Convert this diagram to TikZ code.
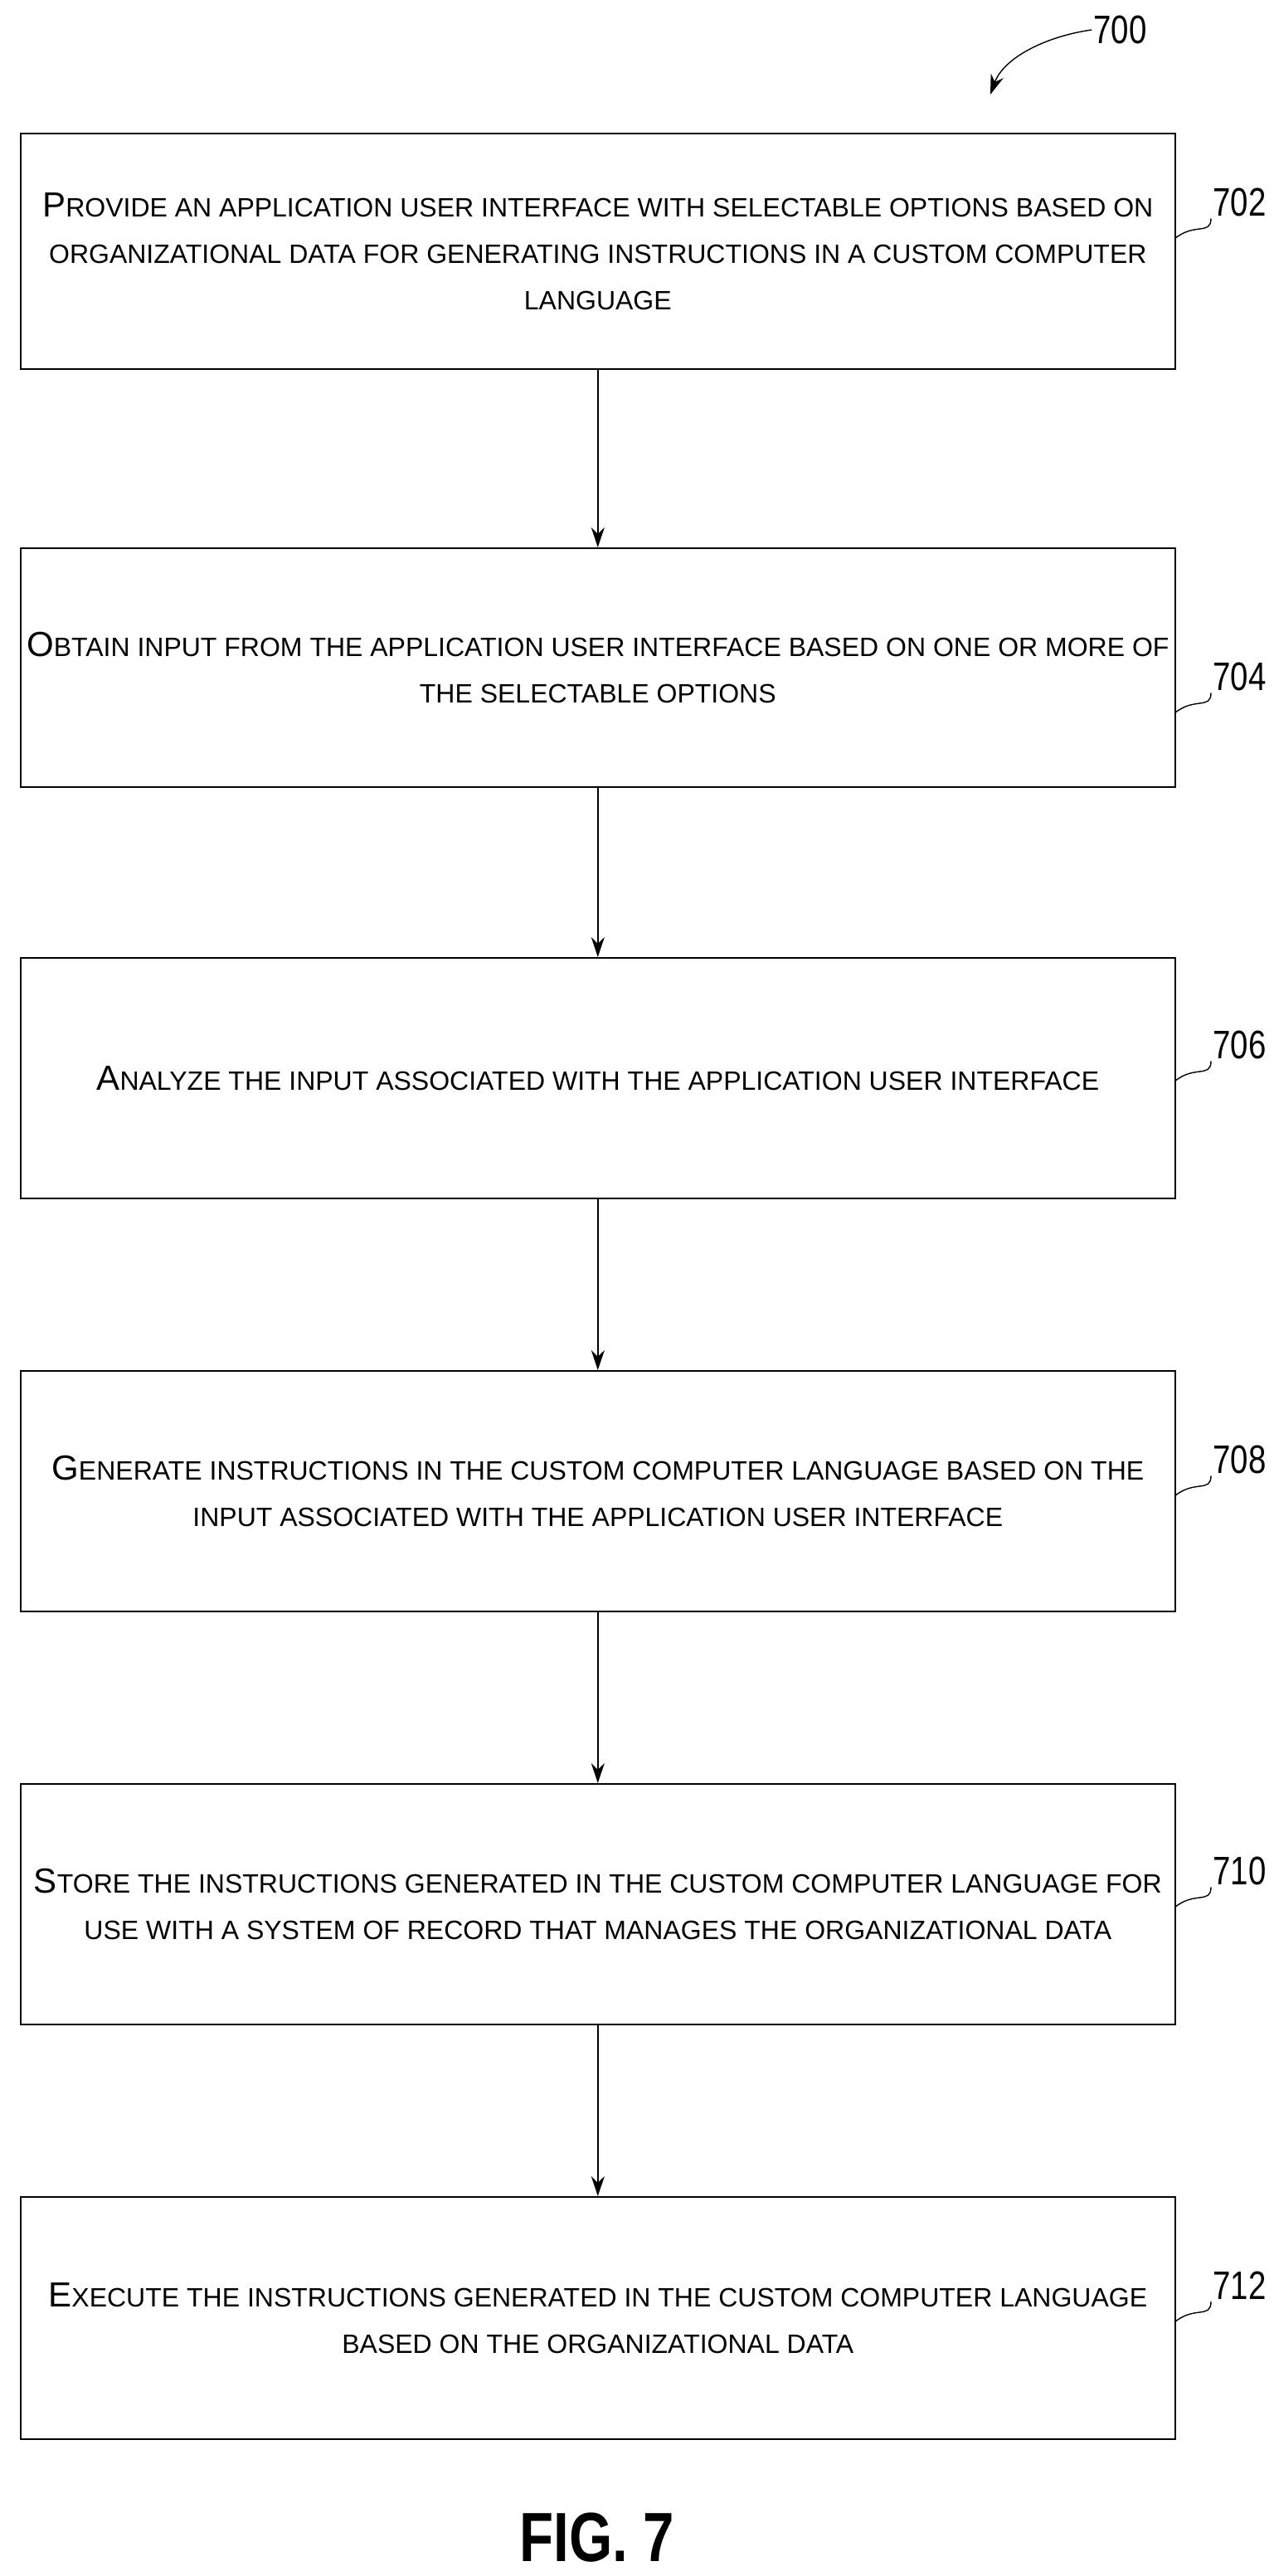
\documentclass[tikz,border=0pt]{standalone}
\usepackage{fontspec}
\setmainfont{Liberation Sans}
\newfontfamily\figfont{Liberation Sans}[FakeStretch=0.8]
\usetikzlibrary{arrows.meta,decorations.pathmorphing}
\newcommand{\bc}[1]{{\fontsize{21}{28}\selectfont #1}}
\tikzset{x=1pt,y=-1pt,
 box/.style={draw,line width=0.8pt,minimum width=696pt,inner sep=0pt,anchor=north west,align=center,font=\fontsize{16}{28}\selectfont},
 arr/.style={line width=0.8pt,-{Stealth[length=12pt,width=8pt]}},
 lbl/.style={font=\figfont\fontsize{24}{24}\selectfont,anchor=west,inner sep=1pt},
 sq/.style={line width=0.7pt}}
\begin{document}
\begin{tikzpicture}
\useasboundingbox (0,0) rectangle (768,1553);
\node[box,minimum height=142pt] (b1) at (12,80) {\bc{P}ROVIDE AN APPLICATION USER INTERFACE WITH SELECTABLE OPTIONS BASED ON\\ORGANIZATIONAL DATA FOR GENERATING INSTRUCTIONS IN A CUSTOM COMPUTER\\LANGUAGE};
\node[box,minimum height=144pt] (b2) at (12,330) {\bc{O}BTAIN INPUT FROM THE APPLICATION USER INTERFACE BASED ON ONE OR MORE OF\\THE SELECTABLE OPTIONS};
\node[box,minimum height=145pt] (b3) at (12,577) {\bc{A}NALYZE THE INPUT ASSOCIATED WITH THE APPLICATION USER INTERFACE};
\node[box,minimum height=145pt] (b4) at (12,826) {\bc{G}ENERATE INSTRUCTIONS IN THE CUSTOM COMPUTER LANGUAGE BASED ON THE\\INPUT ASSOCIATED WITH THE APPLICATION USER INTERFACE};
\node[box,minimum height=145pt] (b5) at (12,1075) {\bc{S}TORE THE INSTRUCTIONS GENERATED IN THE CUSTOM COMPUTER LANGUAGE FOR\\USE WITH A SYSTEM OF RECORD THAT MANAGES THE ORGANIZATIONAL DATA};
\node[box,minimum height=146pt] (b6) at (12,1324) {\bc{E}XECUTE THE INSTRUCTIONS GENERATED IN THE CUSTOM COMPUTER LANGUAGE\\BASED ON THE ORGANIZATIONAL DATA};
\foreach \a/\b in {b1/b2,b2/b3,b3/b4,b4/b5,b5/b6} \draw[arr] (\a.south) -- (\b.north);
\foreach \n/\y/\t in {b1/122/702,b2/408/704,b3/630/706,b4/880/708,b5/1128/710,b6/1378/712}{
 \node[lbl] (l\t) at (730,\y) {\t};
 \draw[sq] (708,\y+22) .. controls (720,\y+12) and (730,\y+20) .. (l\t.south west);
}
\node[lbl] (l700) at (658,18) {700};
\coordinate (a700) at (597,57);
\draw[arr,line width=0.7pt] (l700.west) .. controls (630,22) and (605,35) .. (a700);
\node[font=\figfont\bfseries\fontsize{42}{42}\selectfont] (fig) at (360,1530) {FIG. 7};
\end{tikzpicture}
\end{document}
